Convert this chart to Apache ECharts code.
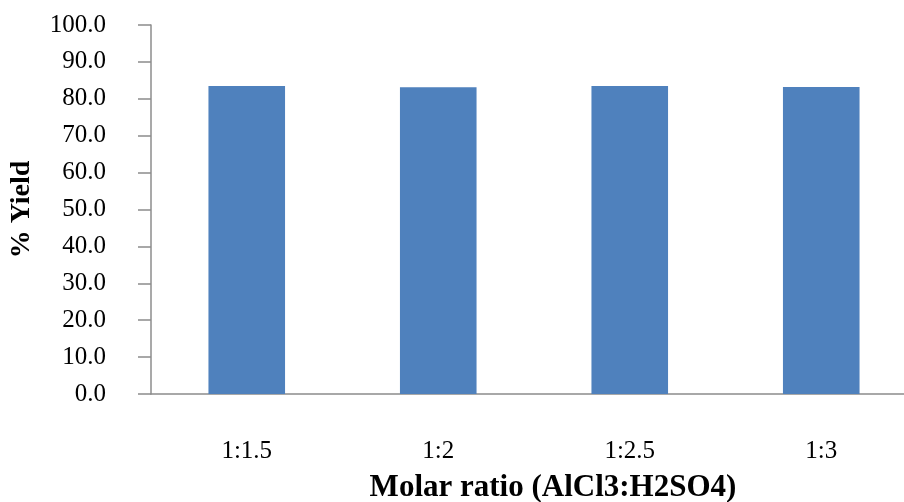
<!DOCTYPE html>
<html>
<head>
<meta charset="utf-8">
<script src="https://cdn.jsdelivr.net/npm/echarts@6/dist/echarts.min.js"></script>
<style>html,body{margin:0;padding:0;background:#fff;}#chart{width:904px;height:502px;}</style>
</head>
<body>
<div id="chart"></div>
<script>
const categories = ['1:1.5', '1:2', '1:2.5', '1:3'];
const yieldValues = [83.5, 83.1, 83.5, 83.2];
const xTitle = 'Molar ratio (AlCl3:H2SO4)';
const yTitle = '% Yield';

const chart = echarts.init(document.getElementById('chart'), null, {renderer: 'canvas'});
const font = '"Liberation Serif", "Times New Roman", serif';
chart.setOption({
  animation: false,
  backgroundColor: '#ffffff',
  grid: {left: 151, top: 25, bottom: 108, right: -13, containLabel: false, outerBoundsMode: 'none'},
  xAxis: {
    type: 'category',
    data: categories,
    axisLine: {lineStyle: {color: '#8c8c8c', width: 1.5}},
    axisTick: {show: false},
    axisLabel: {color: '#000', fontFamily: font, fontSize: 25, margin: 45},
    name: xTitle,
    nameLocation: 'middle',
    nameGap: 78,
    nameTextStyle: {color: '#000', fontFamily: font, fontSize: 31, fontWeight: 'bold', padding: [0, 0, 0, 38]}
  },
  yAxis: {
    type: 'value',
    min: 0, max: 100, interval: 10,
    axisLine: {show: true, lineStyle: {color: '#8c8c8c', width: 1.5}},
    axisTick: {show: true, length: 13, lineStyle: {color: '#8c8c8c', width: 1.5}},
    splitLine: {show: false},
    axisLabel: {color: '#000', fontFamily: font, fontSize: 25, margin: 45, formatter: v => v.toFixed(1)},
    name: yTitle,
    nameLocation: 'middle',
    nameGap: 115,
    nameRotate: 90,
    nameTextStyle: {color: '#000', fontFamily: font, fontSize: 28, fontWeight: 'bold'}
  },
  series: [{
    type: 'bar',
    data: yieldValues,
    barCategoryGap: '60%',
    itemStyle: {color: '#4F81BD'}
  }]
});
</script>
</body>
</html>
